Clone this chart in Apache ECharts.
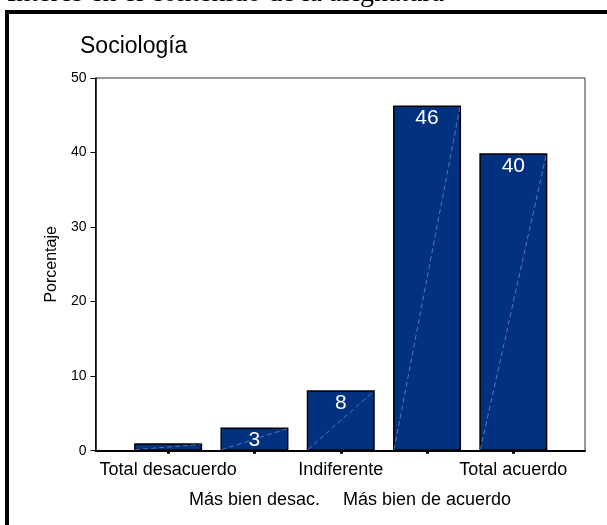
<!DOCTYPE html>
<html>
<head>
<meta charset="utf-8">
<script src="https://cdn.jsdelivr.net/npm/echarts@6/dist/echarts.min.js"></script>
<style>
html,body{margin:0;padding:0;background:#fff;}
#chart{width:607px;height:525px;}
</style>
</head>
<body>
<div id="chart"></div>
<script>
const pageHeading = 'Interés en el contenido de la asignatura';
const chartTitle = 'Sociología';
const yAxisName = 'Porcentaje';
const categories = ['Total desacuerdo', 'Más bien desac.', 'Indiferente', 'Más bien de acuerdo', 'Total acuerdo'];
const percentages = [1.0, 3.1, 8.1, 46.3, 39.9];
const yMin = 0;
const yMax = 50;
const yInterval = 10;

const sans = '"Liberation Sans", Arial, sans-serif';
const serif = '"Liberation Serif", "Times New Roman", serif';
const BAR_W = 68;

const chart = echarts.init(document.getElementById('chart'), null, {renderer: 'canvas'});
const option = {
  backgroundColor: '#fff',
  animation: false,
  title: {
    text: chartTitle,
    left: 80,
    top: 35,
    padding: 0,
    textStyle: {fontFamily: sans, fontSize: 23, fontWeight: 'normal', color: '#000'}
  },
  graphic: [
    {
      type: 'text',
      left: 7,
      top: -20,
      style: {text: pageHeading, font: '28px ' + serif, fill: '#000'}
    },
    {
      type: 'rect',
      shape: {x: 7, y: 12, width: 640, height: 600},
      style: {fill: 'none', stroke: '#000', lineWidth: 4},
      silent: true
    }
  ],
  grid: [
    {left: 95.5, right: 22, top: 78, bottom: 74.3, show: true, borderColor: '#333', borderWidth: 1, backgroundColor: 'transparent'},
    {left: 125, right: 50.5, top: 78, bottom: 74.3}
  ],
  xAxis: [
    {
      gridIndex: 0, type: 'value', min: 0, max: 1,
      axisLine: {show: true, lineStyle: {color: '#000', width: 2}},
      axisTick: {show: false}, axisLabel: {show: false}, splitLine: {show: false}
    },
    {
      gridIndex: 1, type: 'category', data: categories,
      axisLine: {show: false},
      axisTick: {show: true, alignWithLabel: true, length: 3, lineStyle: {color: '#000', width: 3}},
      axisLabel: {
        interval: 0, color: '#000', fontFamily: sans, fontSize: 18, lineHeight: 30, margin: 4,
        formatter: (v, i) => (i % 2 ? '\n' + v : v)
      },
      splitLine: {show: false}
    }
  ],
  yAxis: [
    {
      gridIndex: 0, type: 'value', min: yMin, max: yMax, interval: yInterval,
      name: yAxisName, nameLocation: 'middle', nameGap: 35,
      nameTextStyle: {fontFamily: sans, fontSize: 16, color: '#000'},
      axisLine: {show: true, lineStyle: {color: '#000', width: 1.5}},
      axisTick: {show: true, length: 5, lineStyle: {color: '#000', width: 1}},
      axisLabel: {fontFamily: sans, fontSize: 14, color: '#000', margin: 9},
      splitLine: {show: false}
    },
    {gridIndex: 1, type: 'value', min: yMin, max: yMax, show: false}
  ],
  series: [
    {
      type: 'bar',
      xAxisIndex: 1, yAxisIndex: 1,
      data: percentages,
      barWidth: BAR_W,
      itemStyle: {color: '#02327f', borderColor: '#000', borderWidth: 1.5},
      label: {
        show: true, position: 'insideTop', distance: 2,
        color: '#fff', fontFamily: sans, fontSize: 21,
        formatter: p => (p.value >= 2 ? String(Math.round(p.value)) : '')
      },
      z: 2
    },
    {
      type: 'custom',
      xAxisIndex: 1, yAxisIndex: 1,
      data: percentages.map((v, i) => [i, v]),
      silent: true,
      z: 3,
      renderItem: function (params, api) {
        const top = api.coord([api.value(0), api.value(1)]);
        const base = api.coord([api.value(0), 0]);
        const half = BAR_W / 2 - 1;
        return {
          type: 'line',
          shape: {x1: base[0] - half, y1: base[1] - 1, x2: top[0] + half, y2: top[1] + 1},
          style: {stroke: 'rgba(190,205,255,0.55)', lineWidth: 0.8, lineDash: [5, 3]}
        };
      }
    }
  ]
};
chart.setOption(option);
</script>
</body>
</html>
